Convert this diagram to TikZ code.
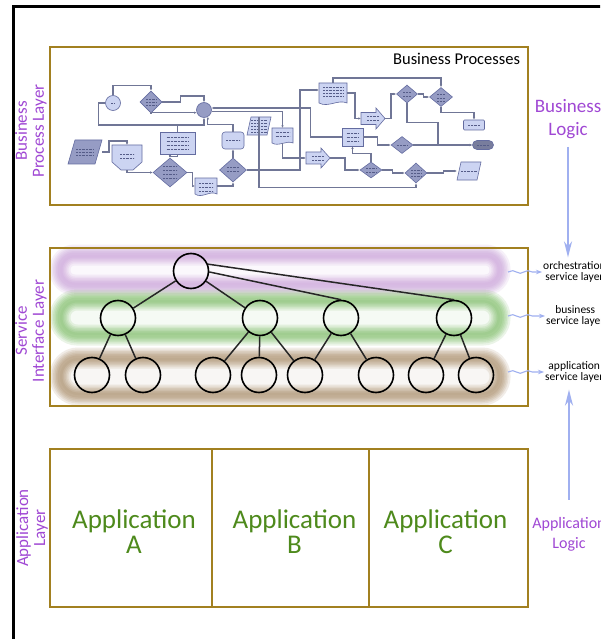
\documentclass[tikz,border=0pt]{standalone}
\usepackage{fontspec}
\setmainfont{Carlito}
\usetikzlibrary{arrows.meta,shapes.geometric,shapes.misc,calc,decorations.pathmorphing}

\definecolor{layerpurple}{RGB}{160,72,212}
\definecolor{boxgold}{RGB}{162,128,32}
\definecolor{appgreen}{RGB}{78,138,28}
\definecolor{logicblue}{RGB}{160,176,240}
\definecolor{fclight}{RGB}{204,212,242}
\definecolor{fcdark}{RGB}{150,156,196}
\definecolor{fcedge}{RGB}{100,108,160}
\definecolor{fcline}{RGB}{112,118,150}
\definecolor{glowpurple}{RGB}{190,140,210}
\definecolor{glowgreen}{RGB}{100,175,70}
\definecolor{glowbrown}{RGB}{150,115,70}

% soft glowing rounded band: x1, y1, x2, y2, colour
\newcommand\glowband[5]{%
  \pgfmathsetmacro\gbr{(#4-#2-10)/2-0.5}%
  \fill[#5, opacity=0.06, rounded corners=\gbr pt] (#1+5,#2+5) rectangle (#3-5,#4-5);
  \foreach \w in {21,17,14,11,8,5}{%
    \draw[#5, line width=\w pt, opacity=0.13, rounded corners=\gbr pt] (#1+5,#2+5) rectangle (#3-5,#4-5);
  }%
}
% dotted placeholder text lines inside a flowchart shape
\newcommand\txtlines[3]{\foreach \o in {#3}{\draw[txtln] ($(#1.center)+(-#2,\o)$) -- ++(2*#2,0);}}
% slanted parallelogram outline over a node: node, style, slant
\newcommand\paral[3]{\draw[#2] (#1.south west) -- ($(#1.north west)+(#3,0)$) -- (#1.north east) -- ($(#1.south east)+(-#3,0)$) -- cycle;}
% block arrow outline over a node: node, style
\newcommand\blockarrow[2]{\draw[#2] ($(#1.west)+(0,-6)$) -- ($(#1.east)+(-9,-6)$) -- ($(#1.north east)+(-9,0)$)
  -- (#1.east) -- ($(#1.south east)+(-9,0)$) -- ($(#1.east)+(-9,6)$) -- ($(#1.west)+(0,6)$) -- cycle;}

\begin{document}
\begin{tikzpicture}[x=1pt,y=-1pt,
  layerbox/.style={draw=boxgold, line width=2.4pt, inner sep=0},
  sidelabel/.style={rotate=90, text=layerpurple, align=center, inner sep=0,
    font=\fontsize{17}{17}\selectfont},
  logictext/.style={text=layerpurple, align=center, inner sep=0},
  svclabel/.style={align=center, inner sep=1pt, font=\fontsize{11.5}{11}\selectfont},
  svc/.style={circle, draw=black, line width=1.6pt, minimum size=35pt, inner sep=0},
  treeedge/.style={line width=1.5pt, draw=black!85},
  fcl/.style={draw=fcedge, fill=fclight, line width=0.6pt, inner sep=0},
  fcd/.style={draw=fcedge, fill=fcdark, line width=0.6pt, inner sep=0},
  ghost/.style={rectangle, inner sep=0, outer sep=0},
  flow/.style={draw=fcline, line width=1.1pt, -{Latex[length=2.6pt,width=2.4pt]}},
  txtln/.style={draw=fcedge!85!black, line width=0.5pt, dash pattern=on 0.7pt off 0.7pt},
  logicarrow/.style={draw=logicblue, line width=2pt, -{Stealth[length=16pt,width=8pt,inset=5pt]}},
  wavy/.style={draw=logicblue, line width=1.1pt, decorate,
    decoration={snake, amplitude=1.3pt, segment length=15pt, post length=8pt},
    -{Stealth[length=6pt,width=4.5pt]}},
  appsection/.style={draw=boxgold, line width=1.5pt, minimum height=158pt, inner sep=0},
  apptext/.style={text=appgreen, align=center, inner sep=0, font=\fontsize{27}{25}\selectfont}
]
\useasboundingbox (0,0) rectangle (600,639);
\clip (0,0) rectangle (600,639);
\fill[white] (0,0) rectangle (600,639);

% outer frame
\draw[line width=3pt] (13.3,700) -- (13.3,6.7) -- (700,6.7);

% ---------- service interface layer ----------
\glowband{55}{250}{505}{290}{glowpurple}
\glowband{55}{295}{505}{340}{glowgreen}
\glowband{55}{353}{505}{400}{glowbrown}
\node[layerbox, minimum width=478pt, minimum height=158pt] (sibox) at (289,327) {};

\node[svc] (o) at (191,271) {};
\node[svc] (b1) at (118,318) {};
\node[svc] (b2) at (260,318) {};
\node[svc] (b3) at (341,318) {};
\node[svc] (b4) at (454,318) {};
\foreach \n/\x in {a1/92,a2/143,a3/213,a4/259,a5/305,a6/376,a7/426,a8/476}
  \node[svc] (\n) at (\x,375) {};

\draw[treeedge] (o) -- (b1);
\draw[treeedge] (o) -- (b2);
\draw[treeedge] (o.22) -- (b4.north);
\draw[treeedge] (o.-3) -- (b3.north);
\foreach \p/\c in {b1/a1,b1/a2,b2/a3,b2/a4,b2/a5,b3/a5,b3/a6,b4/a7,b4/a8}
  \draw[treeedge] (\p) -- (\c);

% ---------- business process layer ----------
\node[layerbox, minimum width=478pt, minimum height=158pt] (bpbox) at (289,126) {};
\node[anchor=east, inner sep=0, font=\fontsize{16.5}{18}\selectfont] (bptitle)
  at ($(bpbox.north east)+(-9,13)$) {Business Processes};

% flowchart shapes
\node[fcl, circle, minimum size=15pt] (fc1) at (113,103) {};
\node[fcd, diamond, minimum width=22pt, minimum height=22pt] (fd1) at (151,102) {};
\node[fcd, circle, minimum size=15pt] (hub) at (204,110) {};
\node[ghost, minimum width=34pt, minimum height=24pt] (fp1) at (85,152) {};
\paral{fp1}{fcd}{7}
\node[ghost, minimum width=30pt, minimum height=25pt] (fm1) at (127,157.5) {};
\draw[fcl] (fm1.north west) -- (fm1.north east) -- ($(fm1.south east)+(0,-8)$)
  -- ($(fm1.south)+(6,0)$) -- ($(fm1.south)+(-6,0)$) -- ($(fm1.south west)+(0,-8)$) -- cycle;
\node[fcl, minimum width=35pt, minimum height=22pt] (fr1) at (177.5,143) {};
\node[fcd, diamond, minimum width=34pt, minimum height=29pt] (fd2) at (170,172.5) {};
\node[ghost, minimum width=22pt, minimum height=16pt] (fk1) at (206,186) {};
\draw[fcl] (fk1.south west) -- (fk1.north west) -- (fk1.north east) -- (fk1.south east)
  .. controls ($(fk1.south)+(4,-4)$) and ($(fk1.south)+(-4,5)$) .. (fk1.south west) -- cycle;
\node[fcl, rounded corners=3pt, minimum width=22pt, minimum height=17pt] (fr2) at (233,140.5) {};
\node[fcd, diamond, minimum width=27pt, minimum height=24pt] (fd3) at (233,170) {};
\node[ghost, minimum width=24pt, minimum height=18pt] (fp2) at (259,126) {};
\paral{fp2}{fcl}{4}
\node[ghost, minimum width=21pt, minimum height=15pt] (fk2) at (282.5,135.5) {};
\draw[fcl] (fk2.south west) -- (fk2.north west) -- (fk2.north east) -- (fk2.south east)
  .. controls ($(fk2.south)+(4,-3)$) and ($(fk2.south)+(-4,4)$) .. (fk2.south west) -- cycle;
\node[ghost, minimum width=28pt, minimum height=20pt] (fk3) at (333,93) {};
\draw[fcl] (fk3.south west) -- (fk3.north west) -- (fk3.north east) -- (fk3.south east)
  .. controls ($(fk3.south)+(5,-4)$) and ($(fk3.south)+(-5,5)$) .. (fk3.south west) -- cycle;
\node[ghost, minimum width=24pt, minimum height=20pt] (fa1) at (318,158) {};
\blockarrow{fa1}{fcl}
\node[fcl, minimum width=21pt, minimum height=18pt] (fr3) at (352.5,137) {};
\node[ghost, minimum width=24pt, minimum height=21pt] (fa2) at (373,118.5) {};
\blockarrow{fa2}{fcl}
\node[fcd, diamond, minimum width=21pt, minimum height=18pt] (fd4) at (407,94) {};
\node[fcd, diamond, minimum width=23pt, minimum height=19pt] (fd5) at (441,97) {};
\node[fcl, rounded corners=1pt, minimum width=21pt, minimum height=10pt] (fr4) at (474,125) {};
\node[fcd, fill=fcdark!80!black, rounded rectangle, minimum width=21pt, minimum height=9pt] (ft) at (483,145) {};
\node[fcd, diamond, minimum width=22pt, minimum height=17pt] (fd6) at (402,145) {};
\node[fcd, diamond, minimum width=22pt, minimum height=16pt] (fd7) at (371,170) {};
\node[fcd, diamond, minimum width=22pt, minimum height=20pt] (fd8) at (416,173) {};
\node[ghost, minimum width=24pt, minimum height=18pt] (fp3) at (469,171) {};
\paral{fp3}{fcl}{4}

% placeholder text inside the shapes
\txtlines{fc1}{2}{0}
\txtlines{fd1}{5}{-3,0,3}
\txtlines{fp1}{9}{-3,0,3}
\txtlines{fm1}{7}{-3,1}
\txtlines{fr1}{11}{-6,-2,2,6}
\txtlines{fd2}{7}{-6,-2,2,6}
\txtlines{fk1}{7}{-3,1,5}
\txtlines{fr2}{7}{0}
\txtlines{fd3}{6}{-3,1}
\txtlines{fp2}{8}{-6,-3,0,3,6}
\txtlines{fk2}{7}{-3,1}
\txtlines{fk3}{10}{-6,-3,0,3}
\txtlines{fa1}{6}{-2,2}
\txtlines{fr3}{6}{-4,0,4}
\txtlines{fa2}{6}{-2,2}
\txtlines{fd4}{4}{-2,2}
\txtlines{fd5}{4}{-3,1,4}
\txtlines{fr4}{6}{0}
\txtlines{ft}{6}{0}
\txtlines{fd6}{5}{0}
\txtlines{fd7}{5}{-2,2}
\txtlines{fd8}{5}{-3,0,3}
\txtlines{fp3}{8}{0}

% flowchart connectors
\coordinate (fv) at (300,90);
\draw[flow] (fc1.north) -- ++(0,-10) -| (fd1.north);
\draw[flow] (fc1.west) -- ++(-7,0) -- ++(0,22) -| (hub.south);
\draw[flow] (fd1.east) -- ++(18,0) -- ++(0,-6) -| (hub.north);
\draw[flow] (fd1.south) |- (hub.200);
\draw[flow] (fr3.west) -- ++(-31,0) |- (hub.15);
\draw[flow] (hub.-10) -| (fk2.north);
\draw[flow] (fr2.north) -- ++(0,-7) -| (hub.-60);
\draw[flow] (fd3.north) -- (fr2.south);
\draw[flow] (fd3.east) -| (fv) -- (fv -| fk3.west);
\draw[flow] (fk2.south) |- (fa1.west);
\draw[flow] (fp2.north) |- ($(fd8.south)+(0,4)$) -- (fd8.south);
\draw[flow] (fk1.east) -| (fd3.south);
\draw[flow] (fp1.east) -- ++(7,0) -- ++(0,-11) -| (fm1.north);
\draw[flow] (fm1.south) |- (fd2.west);
\draw[flow,-] (fr1.north) -- ++(0,-7);
\draw[flow] (fr1.south) -- ++(0,2) -| (fd2.north);
\draw[flow] (fd2.east) -- ++(5,0) |- (fk1.west);
\draw[flow] (fk3.north) -- ++(0,-5) -| (fd5.north);
\draw[flow] (fk3.east) -- ++(8,0) |- (fa2.west);
\draw[flow] (fa2.east) -- ++(6,0) |- (fd4.west);
\draw[flow] (fd4.east) -- ++(6,0) |- (fd5.west);
\draw[flow] (fd4.south) -- ++(0,19) -- ++(31,0) |- (ft.west);
\draw[flow] (fd5.south) -- ++(0,6) -| (fr4.north);
\draw[flow] (fr3.east) -- ++(14,0) |- (fd6.west);
\draw[flow] (fd6.east) -- (ft.west);
\draw[flow] (fd7.north) -- ++(0,-8) -| (fr3.south);
\draw[flow] (fa1.east) -- ++(15,0) |- (fd7.west);
\draw[flow] (fd7.east) -- ++(10,0) |- (fd8.west);
\draw[flow] (fd8.east) -- ++(16,0) |- (fp3.west);

% ---------- application layer ----------
\node[appsection, minimum width=162pt] (appA) at (131,528) {};
\node[appsection, minimum width=157pt] (appB) at (290.5,528) {};
\node[appsection, minimum width=159pt] (appC) at (448.5,528) {};
\node[layerbox, minimum width=478pt, minimum height=158pt] (apbox) at (289,528) {};
\node[apptext] (appAt) at ($(appA.center)+(3,4)$) {Application\\A};
\node[apptext] (appBt) at ($(appB.center)+(4,4)$) {Application\\B};
\node[apptext] (appCt) at ($(appC.center)+(-3,4)$) {Application\\C};

% ---------- layer names ----------
\node[sidelabel] (lbp) at (31,131) {Business\\Process Layer};
\node[sidelabel] (lsi) at (31,331) {Service\\Interface Layer};
\node[sidelabel] (lal) at (32,528) {Application\\Layer};

% ---------- right-hand annotations ----------
\node[logictext, font=\fontsize{19}{23}\selectfont] (bl) at (568,119) {Business\\Logic};
\node[logictext, font=\fontsize{16}{20}\selectfont] (al) at (569,534) {Application\\Logic};
\node[svclabel, anchor=west] (lo) at (542,272) {orchestration\\service layer};
\node[svclabel, anchor=west] (lb) at (545,316) {business\\service layer};
\node[svclabel, anchor=west] (la) at (544,372) {application\\service layer};

\coordinate (wo) at (508,272);
\coordinate (wb) at (508,316);
\coordinate (wa) at (508,372);
\draw[wavy] (wo) -- (lo.west);
\draw[wavy] (wb) -- (lb.west);
\draw[wavy] (wa) -- (la.west);

\draw[logicarrow, shorten <=8pt, shorten >=3pt] (bl.south) -- (bl.south |- lo.north);
\draw[logicarrow, shorten <=17pt, shorten >=6pt] (al.north) -- (al.north |- la.south);
\end{tikzpicture}
\end{document}
